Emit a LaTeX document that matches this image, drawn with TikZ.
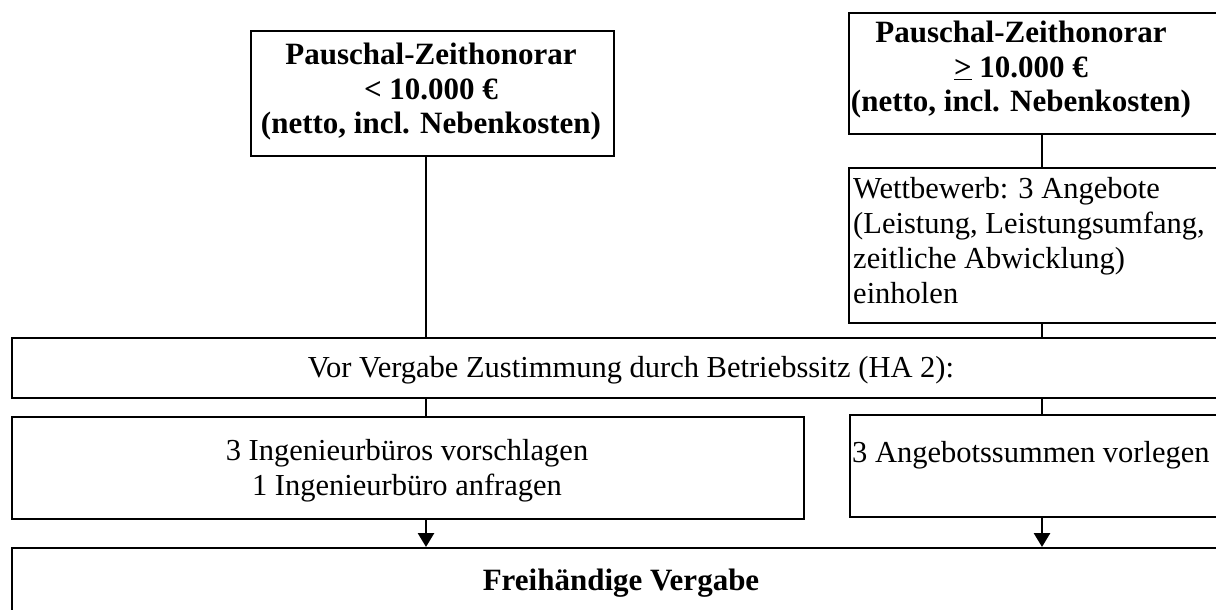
\documentclass[tikz,border=0pt]{standalone}
\usepackage{fontspec}
\setmainfont{Liberation Serif}
\usetikzlibrary{arrows.meta}
\tikzset{
  box/.style={draw, line width=1.9pt, anchor=north west, inner sep=0pt},
  txt/.style={inner sep=0pt, font=\fontsize{30.5}{35}\selectfont},
  btxt/.style={inner sep=0pt, font=\fontsize{31}{34.5}\selectfont\bfseries},
  conn/.style={line width=2.8pt},
  arr/.style={conn, -{Triangle[width=16pt,length=14pt]}}
}
\begin{document}
\begin{tikzpicture}[x=1pt,y=-1pt]
\clip (0,0) rectangle (1216,610);
\fill[white] (0,0) rectangle (1216,610);
% boxes
\node[box, minimum width=363pt, minimum height=125pt] (b1) at (250,30) {};
\node[box, minimum width=382pt, minimum height=121pt] (b2) at (848,12) {};
\node[box, minimum width=382pt, minimum height=155pt] (wett) at (848,167) {};
\node[box, minimum width=1239pt, minimum height=60pt] (vor) at (11,337) {};
\node[box, minimum width=792pt, minimum height=102pt] (ing) at (11,416) {};
\node[box, minimum width=382pt, minimum height=102pt] (ang) at (849,414) {};
\node[box, minimum width=1229pt, minimum height=100pt] (frei) at (11,547) {};
% texts
\node[btxt, align=center] (t1) at (431,92)
  {Pauschal-Zeithonorar\\< 10.000 €\\(netto, incl. Nebenkosten)};
\node[btxt, align=center] (t2) at (1021,70)
  {Pauschal-Zeithonorar\\\underline{>} 10.000 €\\(netto, incl. Nebenkosten)};
\node[txt, align=left, anchor=west] (t3) at (853,241)
  {Wettbewerb: 3 Angebote\\(Leistung, Leistungsumfang,\\zeitliche Abwicklung)\\einholen};
\node[txt] (t4) at (631,370) {Vor Vergabe Zustimmung durch Betriebssitz (HA 2):};
\node[txt, align=center] (t5) at (407,471) {3 Ingenieurbüros vorschlagen\\1 Ingenieurbüro anfragen};
\node[txt, anchor=west] (t6) at (852,455) {3 Angebotssummen vorlegen};
\node[btxt] (t7) at (621,583) {Freihändige Vergabe};
% connector columns
\coordinate (lx) at (426,0);
\coordinate (rx) at (1042,0);
\draw[conn] (b1.south -| lx) -- (vor.north -| lx);
\draw[conn] (b2.south -| rx) -- (wett.north -| rx);
\draw[conn] (wett.south -| rx) -- (vor.north -| rx);
\draw[conn] (vor.south -| lx) -- (ing.north -| lx);
\draw[conn] (vor.south -| rx) -- (ang.north -| rx);
\draw[arr] (ing.south -| lx) -- (frei.north -| lx);
\draw[arr] (ang.south -| rx) -- (frei.north -| rx);
\end{tikzpicture}
\end{document}
